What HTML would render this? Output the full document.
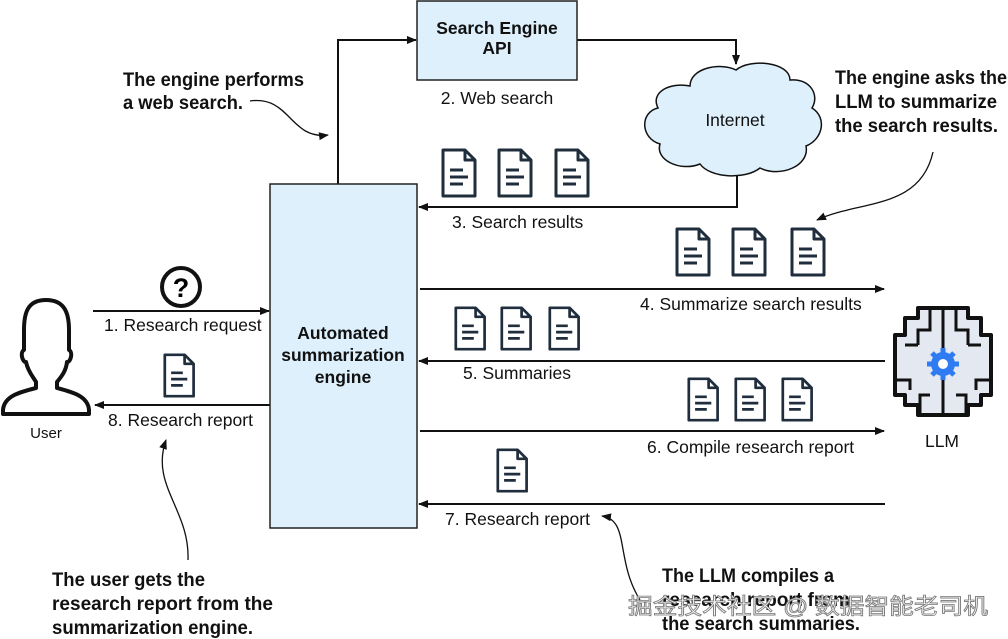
<!DOCTYPE html>
<html><head><meta charset="utf-8"><style>
html,body{margin:0;padding:0;background:#fff}
svg{display:block}
.t{font-family:"Liberation Sans",sans-serif;font-size:17.5px;fill:#111}
.b{font-family:"Liberation Sans",sans-serif;font-weight:bold;font-size:17.5px;fill:#111}
.a{font-family:"Liberation Sans",sans-serif;font-weight:bold;font-size:19px;fill:#111}
</style></head><body>
<svg width="1008" height="639" viewBox="0 0 1008 639" xmlns="http://www.w3.org/2000/svg">
<defs>
<marker id="ar" markerWidth="10" markerHeight="8" refX="9" refY="4" orient="auto" markerUnits="userSpaceOnUse"><path d="M0,0 L10,4 L0,8 Z" fill="#111"/></marker>
<g id="doc"><path d="M2,2 H24 L34,12 V48 H2 Z" fill="#fff" stroke="#1f2d3d" stroke-width="3" stroke-linejoin="round"/><path d="M24,2 V12 H34" fill="none" stroke="#1f2d3d" stroke-width="3" stroke-linejoin="round"/><path d="M9,22 H22 M9,29 H27 M9,36 H22" stroke="#1f2d3d" stroke-width="3"/></g>
</defs>
<g fill="none" stroke="#111" stroke-width="2">
<path d="M338,184 V40 H416" marker-end="url(#ar)"/>
<path d="M577,40 H736 V64" marker-end="url(#ar)"/>
<path d="M737,175 V207 H419" marker-end="url(#ar)"/>
<path d="M420,289 H884" marker-end="url(#ar)"/>
<path d="M885,361 H419" marker-end="url(#ar)"/>
<path d="M420,431 H884" marker-end="url(#ar)"/>
<path d="M885,504 H419" marker-end="url(#ar)"/>
<path d="M93,311 H269" marker-end="url(#ar)"/>
<path d="M270,405 H95" marker-end="url(#ar)"/>
</g>
<g fill="none" stroke="#111" stroke-width="1.3">
<path d="M250,101 C290,95 290,140 328,135" marker-end="url(#ar)"/>
<path d="M933,152 C920,210 860,200 817,220" marker-end="url(#ar)"/>
<path d="M188,560 C190,510 150,485 166,440" marker-end="url(#ar)"/>
<path d="M640,600 C615,560 630,520 602,516" marker-end="url(#ar)"/>
</g>
<rect x="417" y="1" width="160" height="79" fill="#ddf0fc" stroke="#222" stroke-width="1.5"/>
<text class="b" x="497" y="34" text-anchor="middle">Search Engine</text>
<text class="b" x="497" y="54" text-anchor="middle">API</text>
<text class="t" x="497" y="104" text-anchor="middle">2. Web search</text>
<rect x="270" y="184" width="147" height="344" fill="#ddf0fc" stroke="#222" stroke-width="1.5"/>
<text class="b" x="343" y="339" text-anchor="middle">Automated</text>
<text class="b" x="343" y="361" text-anchor="middle">summarization</text>
<text class="b" x="343" y="383" text-anchor="middle">engine</text>
<path d="M690,86 C690,68 720,62 736,70 C750,58 790,62 790,80 C810,78 820,95 812,108 C828,118 822,140 806,146 C810,166 780,178 760,168 C745,180 710,178 700,164 C680,172 655,160 660,144 C640,138 640,112 658,108 C650,92 670,82 690,86 Z" fill="#ddf0fc" stroke="#111" stroke-width="1.5"/>
<text class="t" x="735" y="126" text-anchor="middle">Internet</text>
<use href="#doc" x="441" y="148"/><use href="#doc" x="497" y="148"/><use href="#doc" x="554" y="148"/>
<text class="t" x="452" y="228">3. Search results</text>
<use href="#doc" x="675" y="227"/><use href="#doc" x="731" y="227"/><use href="#doc" x="790" y="227"/>
<text class="t" x="640" y="310">4. Summarize search results</text>
<use href="#doc" x="454" y="306" transform="translate(454,306) scale(0.9) translate(-454,-306)"/>
<use href="#doc" x="500" y="306" transform="translate(500,306) scale(0.9) translate(-500,-306)"/>
<use href="#doc" x="548" y="306" transform="translate(548,306) scale(0.9) translate(-548,-306)"/>
<text class="t" x="463" y="379">5. Summaries</text>
<use href="#doc" x="687" y="377" transform="translate(687,377) scale(0.9) translate(-687,-377)"/>
<use href="#doc" x="734" y="377" transform="translate(734,377) scale(0.9) translate(-734,-377)"/>
<use href="#doc" x="781" y="377" transform="translate(781,377) scale(0.9) translate(-781,-377)"/>
<text class="t" x="647" y="453">6. Compile research report</text>
<use href="#doc" x="496" y="448" transform="translate(496,448) scale(0.9) translate(-496,-448)"/>
<text class="t" x="445" y="525">7. Research report</text>
<circle cx="181" cy="287" r="19" fill="#fff" stroke="#111" stroke-width="4"/>
<text x="181" y="297" text-anchor="middle" style="font-family:'Liberation Sans',sans-serif;font-weight:bold;font-size:27px">?</text>
<text class="t" x="104" y="331">1. Research request</text>
<use href="#doc" x="163" y="353" transform="translate(163,353) scale(0.9) translate(-163,-353)"/>
<text class="t" x="108" y="426">8. Research report</text>
<path d="M46,300 C28,300 24,312 24,330 V350 C20,352 22,362 26,362 C28,372 34,378 36,382 V388 C20,392 4,396 3,410 V414 H89 V410 C88,396 72,392 57,388 V382 C60,378 66,372 67,362 C71,362 73,352 69,350 V330 C69,312 64,300 46,300 Z" fill="#fff" stroke="#111" stroke-width="4" stroke-linejoin="round"/>
<text x="46" y="438" text-anchor="middle" style="font-family:'Liberation Sans',sans-serif;font-size:15px;fill:#111">User</text>
<path d="M943,308 H918 V318 H905 V335 H895 V395 H905 V405 H918 V415 H968 V405 H981 V395 H991 V335 H981 V318 H968 V308 Z" fill="#e3e8f1" stroke="#111" stroke-width="4" stroke-linejoin="round"/>
<path d="M943,308 V415 M930,308 V330 H918 V345 M956,308 V330 H968 V345 M905,345 H918 M981,345 H968 M895,380 H910 V390 M991,380 H976 V390 M920,415 V395 H930 M966,415 V395 H956" fill="none" stroke="#111" stroke-width="3"/>
<g fill="#2f7bf2"><circle cx="943" cy="364" r="12"/>
<g stroke="#2f7bf2" stroke-width="5"><path d="M943,348 V380 M927,364 H959 M932,353 L954,375 M954,353 L932,375"/></g></g>
<circle cx="943" cy="364" r="5" fill="#fff"/>
<text class="t" x="942" y="447" text-anchor="middle">LLM</text>
<text class="a" x="123" y="86" textLength="181" lengthAdjust="spacingAndGlyphs">The engine performs</text>
<text class="a" x="123" y="109" textLength="120" lengthAdjust="spacingAndGlyphs">a web search.</text>
<text class="a" x="835" y="84" textLength="172" lengthAdjust="spacingAndGlyphs">The engine asks the</text>
<text class="a" x="835" y="108" textLength="162" lengthAdjust="spacingAndGlyphs">LLM to summarize</text>
<text class="a" x="835" y="132" textLength="163" lengthAdjust="spacingAndGlyphs">the search results.</text>
<text class="a" x="52" y="586" textLength="153" lengthAdjust="spacingAndGlyphs">The user gets the</text>
<text class="a" x="52" y="610" textLength="221" lengthAdjust="spacingAndGlyphs">research report from the</text>
<text class="a" x="52" y="634" textLength="201" lengthAdjust="spacingAndGlyphs">summarization engine.</text>
<text class="a" x="662" y="582" textLength="172" lengthAdjust="spacingAndGlyphs">The LLM compiles a</text>
<text class="a" x="662" y="606" textLength="188" lengthAdjust="spacingAndGlyphs">research report from</text>
<text class="a" x="662" y="630" textLength="198" lengthAdjust="spacingAndGlyphs">the search summaries.</text>
<text x="628" y="614" textLength="360" lengthAdjust="spacingAndGlyphs" style="font-family:'Liberation Sans','Noto Sans CJK SC',sans-serif;font-size:22px;fill:#f4f4f4;stroke:#777;stroke-width:0.8">掘金技术社区 @ 数据智能老司机</text>
</svg>
</body></html>
